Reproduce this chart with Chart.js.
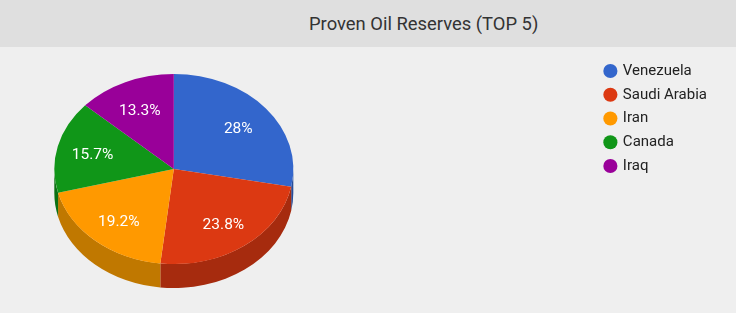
<!DOCTYPE html>
<html>
<head>
<meta charset="utf-8">
<script src="https://cdn.jsdelivr.net/npm/chart.js@4/dist/chart.umd.min.js"></script>
<style>
  html, body { margin: 0; padding: 0; background: #efefef; }
  body { width: 736px; height: 313px; position: relative; overflow: hidden; font-family: Roboto, sans-serif; }
  .header { position: absolute; left: 0; top: 0; width: 736px; height: 47px; background: #dfdfdf; }
  .header h1 { position: absolute; left: 309px; top: 13px; margin: 0; font-size: 18.4px; font-weight: 400; color: #333; white-space: nowrap; }
  /* canvas runs off the left edge so the pie sits left of centre, away from the legend */
  .chart-box { position: absolute; left: -249px; top: 47px; width: 985px; height: 266px; }
</style>
</head>
<body>
<div class="header"><h1>Proven Oil Reserves (TOP 5)</h1></div>
<div class="chart-box"><canvas id="oil-pie"></canvas></div>
<script>
// Share of proven reserves, percent
const countries = ["Venezuela", "Saudi Arabia", "Iran", "Canada", "Iraq"];
const reserves = [28, 23.8, 19.2, 15.7, 13.3];
const topColors = ["#3366cc", "#dc3912", "#ff9900", "#109618", "#990099"];
const sideColors = ["#264c99", "#a62b0e", "#c07800", "#0c7113", "#730073"];

// 3D look: squash the pie and draw the rim below it
const TILT = 0.795;
const DEPTH = 24;

const pie3d = {
  id: "pie3d",
  beforeDatasetsDraw(chart) {
    const ctx = chart.ctx;
    const arcs = chart.getDatasetMeta(0).data;
    ctx.save();
    arcs.forEach((arc, i) => {
      const { x, y, outerRadius: r, startAngle, endAngle } = arc.getProps(["x", "y", "outerRadius", "startAngle", "endAngle"], true);
      const ry = r * TILT;
      // only the front half of the rim shows
      const s = Math.max(startAngle, 0);
      const e = Math.min(endAngle, Math.PI);
      if (e <= s) return;
      ctx.beginPath();
      ctx.ellipse(x, y, r, ry, 0, s, e, false);
      ctx.lineTo(x + r * Math.cos(e), y + ry * Math.sin(e) + DEPTH);
      ctx.ellipse(x, y + DEPTH, r, ry, 0, e, s, true);
      ctx.closePath();
      ctx.fillStyle = sideColors[i];
      ctx.fill();
    });
    // squash the top face
    const a = arcs[0];
    ctx.translate(a.x, a.y);
    ctx.scale(1, TILT);
    ctx.translate(-a.x, -a.y);
  },
  afterDatasetsDraw(chart) {
    const ctx = chart.ctx;
    ctx.restore();
    const arcs = chart.getDatasetMeta(0).data;
    const total = reserves.reduce((p, v) => p + v, 0);
    ctx.save();
    ctx.fillStyle = "#ffffff";
    ctx.font = "15.5px Roboto, sans-serif";
    ctx.textAlign = "center";
    ctx.textBaseline = "middle";
    arcs.forEach((arc, i) => {
      const mid = (arc.startAngle + arc.endAngle) / 2;
      const lx = arc.x + 0.7 * arc.outerRadius * Math.cos(mid);
      const ly = arc.y + 0.7 * arc.outerRadius * TILT * Math.sin(mid) + 2.5;
      const pct = Math.round(reserves[i] / total * 1000) / 10;
      ctx.fillText(pct + "%", lx, ly);
    });
    ctx.restore();
  }
};

new Chart(document.getElementById("oil-pie"), {
  type: "pie",
  data: {
    labels: countries,
    datasets: [{
      data: reserves,
      backgroundColor: topColors,
      borderWidth: 0,
      radius: 119.5
    }]
  },
  options: {
    responsive: true,
    maintainAspectRatio: false,
    animation: false,
    layout: { padding: { left: 0, right: 19, top: 7.75, bottom: 29.75 } },
    plugins: {
      tooltip: { enabled: false },
      legend: {
        position: "right",
        align: "start",
        labels: {
          usePointStyle: true,
          pointStyle: "circle",
          boxWidth: 10,
          boxHeight: 10,
          padding: 8.75,
          color: "#222222",
          font: { family: "Roboto, sans-serif", size: 15 }
        }
      }
    }
  },
  plugins: [pie3d]
});
</script>
</body>
</html>
